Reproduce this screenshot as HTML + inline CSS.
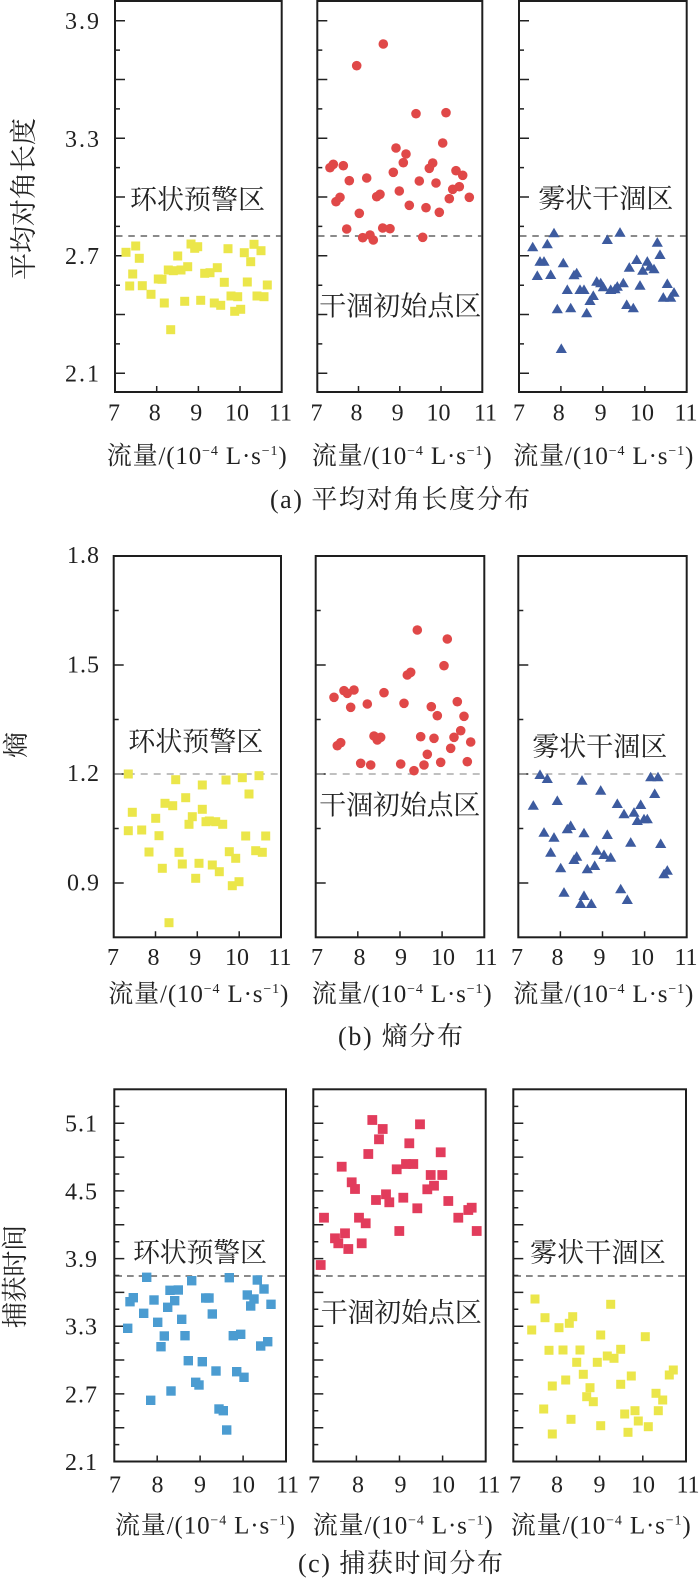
<!DOCTYPE html>
<html><head><meta charset="utf-8"><style>
html,body{margin:0;padding:0;background:#fff;}
svg{display:block;}
text{font-family:"Liberation Serif","Noto Serif CJK SC","Noto Sans CJK SC",serif;fill:#222;}
</style></head><body>
<svg width="700" height="1596" viewBox="0 0 700 1596" xmlns="http://www.w3.org/2000/svg">
<defs>
<rect id="sy" x="-4.5" y="-4.5" width="9" height="9" fill="#ebe64a"/>
<rect id="sb" x="-4.7" y="-4.7" width="9.4" height="9.4" fill="#4b9cd1"/>
<rect id="sr" x="-4.9" y="-4.9" width="9.8" height="9.8" fill="#e23c5c"/>
<circle id="cr" r="4.8" fill="#e04848"/>
<path id="tb" d="M0,-5.6L5.6,4L-5.6,4Z" fill="#3d5b9f"/>
<path id="ta" d="M0,373.3h10M0,314.5h10M0,255.8h10M0,197h10M0,138.2h10M0,79.5h10M0,20.7h10M0,343.9h5M0,285.2h5M0,226.4h5M0,167.6h5M0,108.9h5M0,50.1h5" stroke="#222" stroke-width="1.5" fill="none"/>
<path id="tbk" d="M0,665h10M0,774h10M0,883h10M0,610.5h5M0,719.5h5M0,828.5h5" stroke="#222" stroke-width="1.5" fill="none"/>
<path id="tc" d="M0,1427.7h10M0,1393.9h10M0,1360h10M0,1326.2h10M0,1292.4h10M0,1258.6h10M0,1224.7h10M0,1190.9h10M0,1157.1h10M0,1123.3h10M0,1444.6h5M0,1410.8h5M0,1376.9h5M0,1343.1h5M0,1309.3h5M0,1275.5h5M0,1241.7h5M0,1207.8h5M0,1174h5M0,1140.2h5M0,1106.4h5" stroke="#222" stroke-width="1.5" fill="none"/>
</defs>

<!-- ================= ROW A ================= -->
<g fill="none" stroke="#1e1e1e" stroke-width="2">
<rect x="115" y="1" width="166.7" height="391"/>
<rect x="317.3" y="1" width="165" height="391"/>
<rect x="519" y="1" width="167.7" height="391"/>
</g>
<use href="#ta" x="115"/><use href="#ta" x="317.3"/><use href="#ta" x="519"/>
<path d="M156.7,392v-6M198.4,392v-6M240,392v-6M358.5,392v-6M399.8,392v-6M441,392v-6M560.9,392v-6M602.8,392v-6M644.8,392v-6" stroke="#222" stroke-width="1.5"/>
<g stroke="#444" stroke-width="1.2" stroke-dasharray="6.5 5.8">
<line x1="116" y1="236" x2="281" y2="236"/>
<line x1="318" y1="236" x2="482" y2="236"/>
<line x1="520" y1="236" x2="686" y2="236"/>
</g>
<g font-size="24" text-anchor="end">
<text x="99" y="29" textLength="34">3.9</text>
<text x="99" y="147" textLength="34">3.3</text>
<text x="99" y="264" textLength="34">2.7</text>
<text x="99" y="381.7" textLength="34">2.1</text>
</g>
<g font-size="24" text-anchor="middle">
<text x="114" y="420.7">7</text><text x="154.7" y="420.7">8</text><text x="196.2" y="420.7">9</text><text x="237" y="420.7">10</text><text x="280.5" y="420.7">11</text>
<text x="316.5" y="420.7">7</text><text x="356.5" y="420.7">8</text><text x="397.6" y="420.7">9</text><text x="438.5" y="420.7">10</text><text x="485.5" y="420.7">11</text>
<text x="519" y="420.7">7</text><text x="558.8" y="420.7">8</text><text x="600.6" y="420.7">9</text><text x="642" y="420.7">10</text><text x="686" y="420.7">11</text>
</g>
<g font-size="25">
<text x="106.7" y="464" textLength="180" lengthAdjust="spacing">流量/(10<tspan font-size="14" dy="-9">−4</tspan><tspan dy="9"> L·s</tspan><tspan font-size="14" dy="-9">−1</tspan><tspan dy="9">)</tspan></text>
<text x="311.7" y="464" textLength="180" lengthAdjust="spacing">流量/(10<tspan font-size="14" dy="-9">−4</tspan><tspan dy="9"> L·s</tspan><tspan font-size="14" dy="-9">−1</tspan><tspan dy="9">)</tspan></text>
<text x="513.3" y="464" textLength="180" lengthAdjust="spacing">流量/(10<tspan font-size="14" dy="-9">−4</tspan><tspan dy="9"> L·s</tspan><tspan font-size="14" dy="-9">−1</tspan><tspan dy="9">)</tspan></text>
</g>
<text x="270" y="508" font-size="26" textLength="260" lengthAdjust="spacing">(a) 平均对角长度分布</text>
<text transform="translate(32.8,199) rotate(-90)" font-size="27" text-anchor="middle" textLength="162" lengthAdjust="spacing">平均对角长度</text>
<g font-size="27">
<text x="130" y="209" textLength="135" lengthAdjust="spacing">环状预警区</text>
<text x="319.3" y="315.5" textLength="162" lengthAdjust="spacing">干涸初始点区</text>
<text x="538.3" y="208" textLength="135" lengthAdjust="spacing">雾状干涸区</text>
</g>
<g>
<use href="#sy" x="126" y="252.3"/><use href="#sy" x="135.7" y="246"/><use href="#sy" x="139.3" y="258.3"/><use href="#sy" x="132.7" y="274"/><use href="#sy" x="129.7" y="286"/><use href="#sy" x="142.3" y="285.7"/><use href="#sy" x="151" y="294.3"/><use href="#sy" x="158.3" y="279"/><use href="#sy" x="162" y="279.3"/><use href="#sy" x="164.3" y="303"/><use href="#sy" x="168.3" y="270"/><use href="#sy" x="170.7" y="329.7"/><use href="#sy" x="177.7" y="256"/><use href="#sy" x="173.3" y="270.7"/><use href="#sy" x="181" y="270"/><use href="#sy" x="187.7" y="266.7"/><use href="#sy" x="184.7" y="301.3"/><use href="#sy" x="191" y="244"/><use href="#sy" x="197.7" y="246.7"/><use href="#sy" x="194.7" y="248.3"/><use href="#sy" x="200.7" y="300.3"/><use href="#sy" x="204.7" y="273.3"/><use href="#sy" x="210" y="272.7"/><use href="#sy" x="217.3" y="267.7"/><use href="#sy" x="214.3" y="303"/><use href="#sy" x="220.7" y="305.3"/><use href="#sy" x="224.3" y="282.3"/><use href="#sy" x="228" y="248.7"/><use href="#sy" x="231" y="296"/><use href="#sy" x="237.7" y="296.7"/><use href="#sy" x="234.7" y="311.3"/><use href="#sy" x="240.7" y="309.3"/><use href="#sy" x="244.3" y="252.7"/><use href="#sy" x="247.3" y="282"/><use href="#sy" x="250.7" y="261.7"/><use href="#sy" x="254" y="244.3"/><use href="#sy" x="261" y="250.7"/><use href="#sy" x="257" y="296"/><use href="#sy" x="264" y="296.7"/><use href="#sy" x="267.3" y="285"/>
</g>
<g>
<use href="#cr" x="330" y="167.7"/><use href="#cr" x="333.3" y="164.3"/><use href="#cr" x="343.3" y="165.7"/><use href="#cr" x="336" y="201.7"/><use href="#cr" x="340" y="197.3"/><use href="#cr" x="349.3" y="180.7"/><use href="#cr" x="346.7" y="229"/><use href="#cr" x="356.7" y="65.7"/><use href="#cr" x="359.3" y="213.3"/><use href="#cr" x="362.7" y="237.7"/><use href="#cr" x="366.7" y="178"/><use href="#cr" x="370" y="235"/><use href="#cr" x="373.3" y="240"/><use href="#cr" x="376.7" y="196.7"/><use href="#cr" x="380" y="194.3"/><use href="#cr" x="383.3" y="44"/><use href="#cr" x="382.7" y="228"/><use href="#cr" x="390" y="228.7"/><use href="#cr" x="393.3" y="172.3"/><use href="#cr" x="396" y="148"/><use href="#cr" x="399.3" y="191"/><use href="#cr" x="403.3" y="162.7"/><use href="#cr" x="406" y="154"/><use href="#cr" x="409.3" y="205.3"/><use href="#cr" x="416" y="113.7"/><use href="#cr" x="419.3" y="181"/><use href="#cr" x="422.7" y="237.3"/><use href="#cr" x="426" y="207.7"/><use href="#cr" x="429.3" y="168.3"/><use href="#cr" x="432.7" y="163"/><use href="#cr" x="436" y="183"/><use href="#cr" x="439.3" y="212.3"/><use href="#cr" x="442.7" y="143"/><use href="#cr" x="446" y="112.7"/><use href="#cr" x="449.3" y="198.7"/><use href="#cr" x="452.7" y="189.3"/><use href="#cr" x="456" y="170.7"/><use href="#cr" x="459.3" y="186.7"/><use href="#cr" x="462.7" y="175.3"/><use href="#cr" x="469.3" y="197.3"/>
</g>
<g>
<use href="#tb" x="532.7" y="247.3"/><use href="#tb" x="540" y="261.7"/><use href="#tb" x="544" y="261.7"/><use href="#tb" x="537.3" y="276"/><use href="#tb" x="547.3" y="244.3"/><use href="#tb" x="550.7" y="275"/><use href="#tb" x="554" y="233.3"/><use href="#tb" x="557.3" y="309.3"/><use href="#tb" x="561.3" y="349"/><use href="#tb" x="563.3" y="263.3"/><use href="#tb" x="567.3" y="290"/><use href="#tb" x="570.7" y="308.3"/><use href="#tb" x="574" y="275.3"/><use href="#tb" x="576.7" y="273.3"/><use href="#tb" x="580" y="290"/><use href="#tb" x="584" y="290"/><use href="#tb" x="586.7" y="313.3"/><use href="#tb" x="590" y="301"/><use href="#tb" x="593.3" y="296"/><use href="#tb" x="596.7" y="281.7"/><use href="#tb" x="600.7" y="283.3"/><use href="#tb" x="603.3" y="287.3"/><use href="#tb" x="607.3" y="240"/><use href="#tb" x="610.7" y="290"/><use href="#tb" x="615" y="289.3"/><use href="#tb" x="620" y="232.7"/><use href="#tb" x="617.3" y="286.7"/><use href="#tb" x="623.3" y="283.3"/><use href="#tb" x="626.7" y="305"/><use href="#tb" x="629.3" y="267.7"/><use href="#tb" x="633.3" y="308.3"/><use href="#tb" x="636.7" y="260"/><use href="#tb" x="640" y="285.7"/><use href="#tb" x="642.7" y="270.7"/><use href="#tb" x="647.3" y="261.7"/><use href="#tb" x="650" y="266.7"/><use href="#tb" x="654" y="269.3"/><use href="#tb" x="657.3" y="242.7"/><use href="#tb" x="660" y="255"/><use href="#tb" x="663.3" y="297.7"/><use href="#tb" x="667.3" y="284"/><use href="#tb" x="670.7" y="297.7"/><use href="#tb" x="674" y="292.7"/>
</g>

<!-- ================= ROW B ================= -->
<g fill="none" stroke="#1e1e1e" stroke-width="2">
<rect x="113.7" y="556" width="167.3" height="381.3"/>
<rect x="315.7" y="556" width="168.6" height="381.3"/>
<rect x="518.3" y="556" width="168.4" height="381.3"/>
</g>
<use href="#tbk" x="113.7"/><use href="#tbk" x="315.7"/><use href="#tbk" x="518.3"/>
<path d="M155.5,937.3v-6M197.3,937.3v-6M239.2,937.3v-6M357.8,937.3v-6M400,937.3v-6M442.1,937.3v-6M560.4,937.3v-6M602.5,937.3v-6M644.6,937.3v-6" stroke="#222" stroke-width="1.5"/>
<g stroke="#9a9a9a" stroke-width="1.2" stroke-dasharray="7 6">
<line x1="114.7" y1="774" x2="280" y2="774"/>
<line x1="316.7" y1="774" x2="483.3" y2="774"/>
<line x1="519.3" y1="774" x2="685.7" y2="774"/>
</g>
<g font-size="24" text-anchor="end">
<text x="99" y="563" textLength="32">1.8</text>
<text x="99" y="672.5" textLength="32">1.5</text>
<text x="99" y="781" textLength="32">1.2</text>
<text x="99" y="890.5" textLength="32">0.9</text>
</g>
<g font-size="24" text-anchor="middle">
<text x="113" y="965">7</text><text x="153.5" y="965">8</text><text x="195.3" y="965">9</text><text x="237" y="965">10</text><text x="280" y="965">11</text>
<text x="317" y="965">7</text><text x="359.5" y="965">8</text><text x="401" y="965">9</text><text x="443" y="965">10</text><text x="486" y="965">11</text>
<text x="517" y="965">7</text><text x="557.5" y="965">8</text><text x="599.5" y="965">9</text><text x="642" y="965">10</text><text x="686" y="965">11</text>
</g>
<g font-size="25">
<text x="108.3" y="1002" textLength="180" lengthAdjust="spacing">流量/(10<tspan font-size="14" dy="-9">−4</tspan><tspan dy="9"> L·s</tspan><tspan font-size="14" dy="-9">−1</tspan><tspan dy="9">)</tspan></text>
<text x="311.7" y="1002" textLength="180" lengthAdjust="spacing">流量/(10<tspan font-size="14" dy="-9">−4</tspan><tspan dy="9"> L·s</tspan><tspan font-size="14" dy="-9">−1</tspan><tspan dy="9">)</tspan></text>
<text x="513.3" y="1002" textLength="180" lengthAdjust="spacing">流量/(10<tspan font-size="14" dy="-9">−4</tspan><tspan dy="9"> L·s</tspan><tspan font-size="14" dy="-9">−1</tspan><tspan dy="9">)</tspan></text>
</g>
<text x="338" y="1045" font-size="26" textLength="125" lengthAdjust="spacing">(b) 熵分布</text>
<text transform="translate(24.9,745) rotate(-90)" font-size="26" text-anchor="middle">熵</text>
<g font-size="27">
<text x="128.3" y="751" textLength="135" lengthAdjust="spacing">环状预警区</text>
<text x="319.3" y="814.5" textLength="161" lengthAdjust="spacing">干涸初始点区</text>
<text x="532.3" y="756" textLength="135" lengthAdjust="spacing">雾状干涸区</text>
</g>
<g>
<use href="#sy" x="128.3" y="774"/><use href="#sy" x="128.3" y="830.7"/><use href="#sy" x="132.3" y="812.3"/><use href="#sy" x="141.7" y="830"/><use href="#sy" x="149" y="852"/><use href="#sy" x="155.7" y="818.3"/><use href="#sy" x="159" y="835.7"/><use href="#sy" x="162.3" y="868.3"/><use href="#sy" x="165" y="803.3"/><use href="#sy" x="169" y="922.7"/><use href="#sy" x="172.7" y="805.7"/><use href="#sy" x="175.7" y="779.7"/><use href="#sy" x="179" y="852.3"/><use href="#sy" x="182.3" y="864"/><use href="#sy" x="185.7" y="797.7"/><use href="#sy" x="189" y="824.3"/><use href="#sy" x="192.3" y="816.7"/><use href="#sy" x="195.7" y="878.3"/><use href="#sy" x="199" y="863.3"/><use href="#sy" x="202.3" y="785"/><use href="#sy" x="202.3" y="809.3"/><use href="#sy" x="206" y="821.7"/><use href="#sy" x="209.3" y="821"/><use href="#sy" x="212.3" y="865"/><use href="#sy" x="215.7" y="821.7"/><use href="#sy" x="219.3" y="871.7"/><use href="#sy" x="222.7" y="824.3"/><use href="#sy" x="226" y="780"/><use href="#sy" x="229.3" y="851.7"/><use href="#sy" x="232.3" y="885.7"/><use href="#sy" x="235.7" y="858.3"/><use href="#sy" x="239" y="881.7"/><use href="#sy" x="242.3" y="777.7"/><use href="#sy" x="245.7" y="836"/><use href="#sy" x="249" y="794"/><use href="#sy" x="255.7" y="850.7"/><use href="#sy" x="259" y="775.7"/><use href="#sy" x="262.3" y="852.3"/><use href="#sy" x="265.7" y="836"/>
</g>
<g>
<use href="#cr" x="334" y="697.3"/><use href="#cr" x="337.3" y="745.7"/><use href="#cr" x="340.7" y="742.7"/><use href="#cr" x="344" y="690.7"/><use href="#cr" x="347.3" y="693.3"/><use href="#cr" x="350.7" y="707.3"/><use href="#cr" x="354" y="690"/><use href="#cr" x="360.7" y="763.3"/><use href="#cr" x="367.3" y="704"/><use href="#cr" x="370.7" y="765"/><use href="#cr" x="374" y="736"/><use href="#cr" x="377.3" y="740"/><use href="#cr" x="380.7" y="737.3"/><use href="#cr" x="384" y="692.7"/><use href="#cr" x="400.7" y="764"/><use href="#cr" x="404" y="703.3"/><use href="#cr" x="407.3" y="675"/><use href="#cr" x="410.7" y="672.3"/><use href="#cr" x="414" y="770.7"/><use href="#cr" x="417.3" y="630"/><use href="#cr" x="420.7" y="736.7"/><use href="#cr" x="424" y="765"/><use href="#cr" x="427.3" y="754.3"/><use href="#cr" x="431.3" y="706.7"/><use href="#cr" x="434" y="738.3"/><use href="#cr" x="437.3" y="715.7"/><use href="#cr" x="440.7" y="762.3"/><use href="#cr" x="444" y="665.7"/><use href="#cr" x="447.3" y="639"/><use href="#cr" x="450.7" y="748.3"/><use href="#cr" x="454" y="737.3"/><use href="#cr" x="457.3" y="701.7"/><use href="#cr" x="460.7" y="730.7"/><use href="#cr" x="464" y="716.3"/><use href="#cr" x="467.3" y="761.7"/><use href="#cr" x="470.7" y="742"/>
</g>
<g>
<use href="#tb" x="533.3" y="805.7"/><use href="#tb" x="540" y="775"/><use href="#tb" x="547.3" y="779"/><use href="#tb" x="544" y="832.7"/><use href="#tb" x="550.7" y="852.7"/><use href="#tb" x="554" y="837.7"/><use href="#tb" x="557.3" y="801"/><use href="#tb" x="560.7" y="868.3"/><use href="#tb" x="564" y="892.7"/><use href="#tb" x="567.3" y="829.3"/><use href="#tb" x="570.7" y="826"/><use href="#tb" x="574" y="860"/><use href="#tb" x="576.7" y="856.7"/><use href="#tb" x="580.7" y="904"/><use href="#tb" x="582" y="780.7"/><use href="#tb" x="584" y="833.3"/><use href="#tb" x="584" y="896"/><use href="#tb" x="587.3" y="869.3"/><use href="#tb" x="591.3" y="904"/><use href="#tb" x="594.7" y="866"/><use href="#tb" x="596.7" y="850.7"/><use href="#tb" x="600.7" y="790.7"/><use href="#tb" x="604" y="855"/><use href="#tb" x="607.3" y="835"/><use href="#tb" x="610.7" y="857.7"/><use href="#tb" x="617.3" y="804"/><use href="#tb" x="620.7" y="889.3"/><use href="#tb" x="624" y="814.3"/><use href="#tb" x="627.3" y="900"/><use href="#tb" x="630.7" y="842.7"/><use href="#tb" x="634" y="812.7"/><use href="#tb" x="637.3" y="821"/><use href="#tb" x="640.7" y="805"/><use href="#tb" x="644" y="819.3"/><use href="#tb" x="647.3" y="819.3"/><use href="#tb" x="650.7" y="777.3"/><use href="#tb" x="654.7" y="794"/><use href="#tb" x="658" y="777.3"/><use href="#tb" x="660.7" y="844"/><use href="#tb" x="664" y="874.3"/><use href="#tb" x="667.3" y="870.7"/>
</g>

<!-- ================= ROW C ================= -->
<g fill="none" stroke="#1e1e1e" stroke-width="2">
<rect x="114.3" y="1089.3" width="171.7" height="372.2"/>
<rect x="313.3" y="1089.3" width="172.4" height="372.2"/>
<rect x="513.3" y="1089.3" width="172.7" height="372.2"/>
</g>
<use href="#tc" x="114.3"/><use href="#tc" x="313.3"/><use href="#tc" x="513.3"/>
<path d="M157.2,1461.5v-6M200.1,1461.5v-6M243.1,1461.5v-6M356.4,1461.5v-6M399.5,1461.5v-6M442.6,1461.5v-6M556.5,1461.5v-6M599.6,1461.5v-6M642.8,1461.5v-6" stroke="#222" stroke-width="1.5"/>
<g stroke="#444" stroke-width="1.2" stroke-dasharray="6.7 5">
<line x1="115.3" y1="1276" x2="285" y2="1276"/>
<line x1="314.3" y1="1276" x2="484.7" y2="1276"/>
<line x1="514.3" y1="1276" x2="685" y2="1276"/>
</g>
<g font-size="24" text-anchor="end">
<text x="97" y="1131.7" textLength="32">5.1</text>
<text x="97" y="1199.3" textLength="32">4.5</text>
<text x="97" y="1267" textLength="32">3.9</text>
<text x="97" y="1334.6" textLength="32">3.3</text>
<text x="97" y="1402.3" textLength="32">2.7</text>
<text x="97" y="1470" textLength="32">2.1</text>
</g>
<g font-size="24" text-anchor="middle">
<text x="115" y="1492.3">7</text><text x="157.5" y="1492.3">8</text><text x="200" y="1492.3">9</text><text x="243" y="1492.3">10</text><text x="287.5" y="1492.3">11</text>
<text x="314" y="1492.3">7</text><text x="358" y="1492.3">8</text><text x="400.5" y="1492.3">9</text><text x="443" y="1492.3">10</text><text x="489" y="1492.3">11</text>
<text x="515" y="1492.3">7</text><text x="557" y="1492.3">8</text><text x="599.5" y="1492.3">9</text><text x="643" y="1492.3">10</text><text x="688" y="1492.3">11</text>
</g>
<g font-size="25">
<text x="115" y="1533.3" textLength="180" lengthAdjust="spacing">流量/(10<tspan font-size="14" dy="-9">−4</tspan><tspan dy="9"> L·s</tspan><tspan font-size="14" dy="-9">−1</tspan><tspan dy="9">)</tspan></text>
<text x="312.7" y="1533.3" textLength="180" lengthAdjust="spacing">流量/(10<tspan font-size="14" dy="-9">−4</tspan><tspan dy="9"> L·s</tspan><tspan font-size="14" dy="-9">−1</tspan><tspan dy="9">)</tspan></text>
<text x="510.7" y="1533.3" textLength="180" lengthAdjust="spacing">流量/(10<tspan font-size="14" dy="-9">−4</tspan><tspan dy="9"> L·s</tspan><tspan font-size="14" dy="-9">−1</tspan><tspan dy="9">)</tspan></text>
</g>
<text x="298" y="1572" font-size="26" textLength="205" lengthAdjust="spacing">(c) 捕获时间分布</text>
<text transform="translate(23.9,1276.5) rotate(-90)" font-size="26" text-anchor="middle" textLength="103" lengthAdjust="spacing">捕获时间</text>
<g font-size="27">
<text x="133" y="1262" textLength="134" lengthAdjust="spacing">环状预警区</text>
<text x="320.7" y="1322" textLength="161" lengthAdjust="spacing">干涸初始点区</text>
<text x="530" y="1262" textLength="135.7" lengthAdjust="spacing">雾状干涸区</text>
</g>
<g>
<use href="#sb" x="127.7" y="1328.3"/><use href="#sb" x="130" y="1301.7"/><use href="#sb" x="133.3" y="1297.7"/><use href="#sb" x="143.7" y="1313.3"/><use href="#sb" x="146.7" y="1277.3"/><use href="#sb" x="150.7" y="1400.3"/><use href="#sb" x="154" y="1300"/><use href="#sb" x="157.7" y="1322.3"/><use href="#sb" x="161" y="1346.7"/><use href="#sb" x="164.3" y="1336"/><use href="#sb" x="167.7" y="1307.3"/><use href="#sb" x="171" y="1391"/><use href="#sb" x="170" y="1290.3"/><use href="#sb" x="174.7" y="1300.7"/><use href="#sb" x="178.3" y="1290"/><use href="#sb" x="181.7" y="1319.3"/><use href="#sb" x="185" y="1335.7"/><use href="#sb" x="188.3" y="1360.7"/><use href="#sb" x="191.7" y="1280.7"/><use href="#sb" x="195.7" y="1382.3"/><use href="#sb" x="199" y="1385"/><use href="#sb" x="202.3" y="1361.7"/><use href="#sb" x="205.7" y="1298"/><use href="#sb" x="209" y="1298"/><use href="#sb" x="212.3" y="1314"/><use href="#sb" x="216" y="1371"/><use href="#sb" x="219" y="1409"/><use href="#sb" x="223.3" y="1410.7"/><use href="#sb" x="226.7" y="1430"/><use href="#sb" x="229.3" y="1277.7"/><use href="#sb" x="233.3" y="1335.7"/><use href="#sb" x="236.7" y="1371.7"/><use href="#sb" x="240.7" y="1334.3"/><use href="#sb" x="244" y="1377.3"/><use href="#sb" x="247.3" y="1295"/><use href="#sb" x="250.7" y="1306"/><use href="#sb" x="254" y="1299"/><use href="#sb" x="257.3" y="1280"/><use href="#sb" x="260.7" y="1346"/><use href="#sb" x="264" y="1289"/><use href="#sb" x="267.7" y="1341.7"/><use href="#sb" x="271" y="1304.3"/>
</g>
<g>
<use href="#sr" x="320.7" y="1265"/><use href="#sr" x="324" y="1217.7"/><use href="#sr" x="335" y="1238.3"/><use href="#sr" x="338.3" y="1243.3"/><use href="#sr" x="345" y="1233.3"/><use href="#sr" x="348.3" y="1249"/><use href="#sr" x="341.7" y="1166.7"/><use href="#sr" x="351.7" y="1182.3"/><use href="#sr" x="355" y="1189"/><use href="#sr" x="359" y="1217.7"/><use href="#sr" x="361.7" y="1243.3"/><use href="#sr" x="365.7" y="1223.3"/><use href="#sr" x="368.3" y="1154"/><use href="#sr" x="372.3" y="1120"/><use href="#sr" x="376" y="1200"/><use href="#sr" x="379" y="1139.3"/><use href="#sr" x="382.7" y="1129"/><use href="#sr" x="386" y="1194.3"/><use href="#sr" x="389.3" y="1202.3"/><use href="#sr" x="396.7" y="1169.3"/><use href="#sr" x="399.3" y="1231"/><use href="#sr" x="403.3" y="1197.7"/><use href="#sr" x="406" y="1164"/><use href="#sr" x="409.3" y="1143.3"/><use href="#sr" x="413.3" y="1164"/><use href="#sr" x="417.3" y="1208.3"/><use href="#sr" x="420" y="1124.3"/><use href="#sr" x="427.3" y="1189.3"/><use href="#sr" x="430.7" y="1175"/><use href="#sr" x="434" y="1185.7"/><use href="#sr" x="440.7" y="1152.3"/><use href="#sr" x="442.3" y="1175"/><use href="#sr" x="448.3" y="1201"/><use href="#sr" x="458.3" y="1217.7"/><use href="#sr" x="468.3" y="1210"/><use href="#sr" x="471.7" y="1207.7"/><use href="#sr" x="476.7" y="1231"/>
</g>
<g>
<use href="#sy" x="531.7" y="1330"/><use href="#sy" x="535" y="1299"/><use href="#sy" x="545" y="1317.7"/><use href="#sy" x="549" y="1350.3"/><use href="#sy" x="552.3" y="1386"/><use href="#sy" x="543.7" y="1409"/><use href="#sy" x="552.3" y="1434"/><use href="#sy" x="559" y="1327.7"/><use href="#sy" x="563" y="1350"/><use href="#sy" x="565.7" y="1380"/><use href="#sy" x="569.3" y="1323.3"/><use href="#sy" x="572.7" y="1316.7"/><use href="#sy" x="571" y="1419.3"/><use href="#sy" x="576.7" y="1362.3"/><use href="#sy" x="580" y="1350"/><use href="#sy" x="583.3" y="1374.3"/><use href="#sy" x="586.7" y="1396.7"/><use href="#sy" x="590" y="1387.7"/><use href="#sy" x="593.3" y="1401.7"/><use href="#sy" x="597.3" y="1362.3"/><use href="#sy" x="600.7" y="1335"/><use href="#sy" x="600.7" y="1425.7"/><use href="#sy" x="607.3" y="1356"/><use href="#sy" x="610.7" y="1304.3"/><use href="#sy" x="614" y="1358.3"/><use href="#sy" x="620.7" y="1349.3"/><use href="#sy" x="620.7" y="1384.3"/><use href="#sy" x="624.7" y="1414"/><use href="#sy" x="628" y="1432.3"/><use href="#sy" x="631.3" y="1376"/><use href="#sy" x="635" y="1410.7"/><use href="#sy" x="638.3" y="1421"/><use href="#sy" x="645.3" y="1336.7"/><use href="#sy" x="648.3" y="1426.7"/><use href="#sy" x="656" y="1393.3"/><use href="#sy" x="658.3" y="1410.7"/><use href="#sy" x="662.7" y="1400"/><use href="#sy" x="669.3" y="1375"/><use href="#sy" x="673.3" y="1370"/>
</g>
</svg>
</body></html>
